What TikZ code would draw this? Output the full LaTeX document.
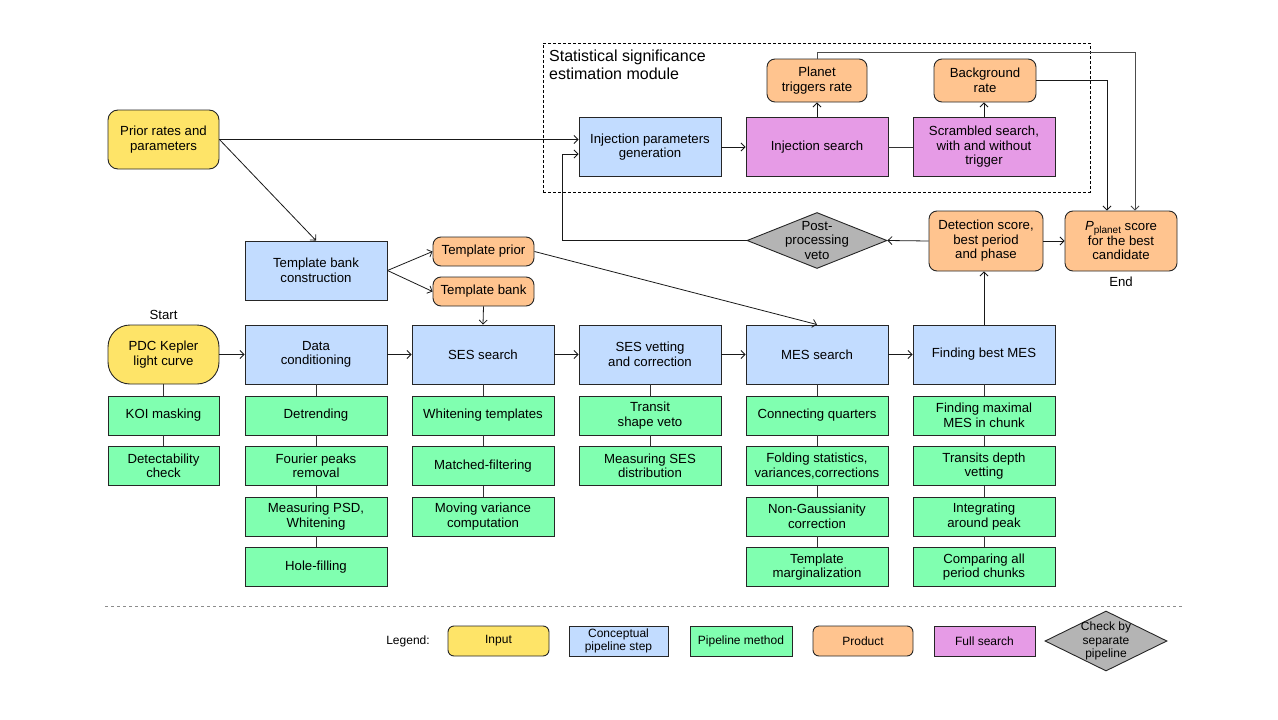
\documentclass[tikz,border=0pt]{standalone}
\usepackage{fontspec}
\setmainfont{Liberation Sans}
\usetikzlibrary{shapes.geometric,arrows.meta,calc}
\definecolor{cinput}{RGB}{254,228,104}
\definecolor{cstep}{RGB}{194,220,255}
\definecolor{cmeth}{RGB}{128,255,176}
\definecolor{cprod}{RGB}{255,196,143}
\definecolor{cfull}{RGB}{230,155,230}
\definecolor{cveto}{RGB}{180,180,180}
\begin{document}
\begin{tikzpicture}[x=1pt,y=-1pt,
  base/.style={font=\fontsize{13.2}{14.5}\selectfont, align=center, inner sep=0pt, line width=0.9pt, draw=black!85},
  inbox/.style={base, fill=cinput, minimum width=111pt, minimum height=59pt},
  stepbox/.style={base, fill=cstep, minimum width=142pt, minimum height=59pt},
  methbox/.style={base, fill=cmeth, minimum width=142pt, minimum height=39pt},
  prodbox/.style={base, fill=cprod, rounded corners=8pt},
  fullbox/.style={base, fill=cfull, minimum width=142pt, minimum height=59pt},
  legfont/.style={font=\fontsize{12}{13.5}\selectfont},
  lbl/.style={font=\fontsize{13.2}{14.5}\selectfont, align=center, inner sep=0pt},
  arr/.style={line width=0.8pt, draw=black!90, -{Straight Barb[length=4pt,width=8pt]}},
  conn/.style={line width=0.8pt, draw=black!80}
]
\useasboundingbox (0,0) rectangle (1278,720);

% statistical module
\node[draw=black, line width=0.8pt, dash pattern=on 3pt off 2pt, minimum width=547pt, minimum height=149pt, inner sep=0pt] (module) at (816.5,117.5) {};
\node[anchor=north west, align=left, inner sep=0pt, font=\fontsize{16}{18}\selectfont] (modtitle) at (549,50) {Statistical significance\\estimation module};

\node[stepbox] (ipg) at (650,147) {Injection parameters\\generation};
\node[fullbox] (isearch) at (817,147) {Injection search};
\node[fullbox] (scram) at (984,147) {Scrambled search,\\with and without\\trigger};
\node[prodbox, minimum width=100pt, minimum height=43pt] (ptr) at (817,80.5) {Planet\\triggers rate};
\node[prodbox, minimum width=102pt, minimum height=43pt] (bgr) at (985,80.5) {Background\\rate};

% prior and template bank
\node[inbox, rounded corners=10pt] (prior) at (163.5,139.5) {Prior rates and\\parameters};
\node[stepbox] (tbc) at (316,270.5) {Template bank\\construction};
\node[prodbox, minimum width=101pt, minimum height=29pt] (tprior) at (483.5,251.5) {Template prior};
\node[prodbox, minimum width=101pt, minimum height=29pt] (tbank) at (483.5,291.5) {Template bank};

% veto, detection, pplanet
\node[base, shape=diamond, fill=cveto, minimum width=140pt, minimum height=56pt] (veto) at (817,240.5) {};
\node[lbl] (vetotxt) at (veto.center) {Post-\\processing\\veto};
\node[prodbox, minimum width=114pt, minimum height=60pt] (detect) at (986,241) {Detection score,\\best period\\and phase};
\node[prodbox, minimum width=112pt, minimum height=60pt] (pplanet) at (1121,241) {{\itshape P}\raisebox{-0.35ex}{\fontsize{10}{10}\selectfont planet} score\\for the best\\candidate};
\node[lbl] (endtxt) at (1121,282) {End};

% main row
\node[lbl] (starttxt) at (163.5,315) {Start};
\node[inbox, rounded corners=22pt] (pdc) at (163.5,354.5) {PDC Kepler\\light curve};
\node[stepbox] (dc) at (316,354.5) {Data\\conditioning};
\node[stepbox] (ses) at (483,354.5) {SES search};
\node[stepbox] (sesv) at (650,354.5) {SES vetting\\and correction};
\node[stepbox] (mes) at (817,354.5) {MES search};
\node[stepbox] (fbm) at (984,354.5) {Finding best MES};

% methods
\node[methbox, minimum width=111pt] (koi) at (163.5,415.5) {KOI masking};
\node[methbox, minimum width=111pt] (detc) at (163.5,466) {Detectability\\check};

\node[methbox] (detr) at (316,415.5) {Detrending};
\node[methbox] (four) at (316,466) {Fourier peaks\\removal};
\node[methbox] (psd) at (316,516.5) {Measuring PSD,\\Whitening};
\node[methbox] (hole) at (316,567) {Hole-filling};

\node[methbox] (whit) at (483,415.5) {Whitening templates};
\node[methbox] (match) at (483,466) {Matched-filtering};
\node[methbox] (movv) at (483,516.5) {Moving variance\\computation};

\node[methbox] (trans) at (650,415.5) {Transit\\shape veto};
\node[methbox] (msd) at (650,466) {Measuring SES\\distribution};

\node[methbox] (conq) at (817,415.5) {Connecting quarters};
\node[methbox] (fold) at (817,466) {Folding statistics,\\variances,corrections};
\node[methbox] (nong) at (817,516.5) {Non-Gaussianity\\correction};
\node[methbox] (tmarg) at (817,567) {Template\\marginalization};

\node[methbox] (fmax) at (984,415.5) {Finding maximal\\MES in chunk};
\node[methbox] (tdep) at (984,466) {Transits depth\\vetting};
\node[methbox] (integ) at (984,516.5) {Integrating\\around peak};
\node[methbox] (comp) at (984,567) {Comparing all\\period chunks};

% vertical method links
\foreach \a/\b in {pdc/koi,koi/detc,dc/detr,detr/four,four/psd,psd/hole,ses/whit,whit/match,match/movv,sesv/trans,trans/msd,mes/conq,conq/fold,fold/nong,nong/tmarg,fbm/fmax,fmax/tdep,tdep/integ,integ/comp}
  \draw[conn] (\a.south) -- (\b.north);

% main chain
\draw[arr] (pdc.east) -- (dc.west);
\draw[arr] (dc.east) -- (ses.west);
\draw[arr] (ses.east) -- (sesv.west);
\draw[arr] (sesv.east) -- (mes.west);
\draw[arr] (mes.east) -- (fbm.west);
\draw[arr] (fbm.north) -- (fbm.north |- detect.south);
\draw[arr] (detect.west) -- (veto.east);
\draw[arr] (detect.east) -- (pplanet.west);

% template links
\draw[arr] (prior.east) -- (tbc.north);
\draw[arr] (prior.east) -- (prior.east -| ipg.west);
\draw[arr] (tbc.east) -- (tprior.west);
\draw[arr] (tbc.east) -- (tbank.west);
\draw[arr] (tprior.east) -- (mes.north);
\draw[arr] (tbank.south) -- (ses.north);

% loop back
\coordinate (loopx) at (562,0);
\coordinate (ipin) at ($(ipg.west)+(0,7)$);
\draw[arr] (veto.west) -- (veto.west -| loopx) |- (ipin);

% module internal
\draw[arr] (ipg.east) -- (isearch.west);
\draw[arr] (isearch.north) -- (ptr.south);
\draw[conn] (isearch.east) -- (scram.west);
\draw[arr] (scram.north) -- (scram.north |- bgr.south);
\draw[arr] (bgr.east) -| ($(pplanet.north)+(-14,0)$);
\coordinate (topy) at (0,52);
\draw[arr, draw=black!70] (ptr.north) -- (ptr.north |- topy) -| ($(pplanet.north)+(14,0)$);

% separator
\coordinate (sepL) at (105,606);
\coordinate (sepR) at (1182,606);
\draw[line width=0.9pt, draw=black!45, dash pattern=on 3pt off 3pt] (sepL) -- (sepR);

% legend
\node[legfont, inner sep=0pt] (legtxt) at (408,641) {Legend:};
\node[base, legfont, fill=cinput, rounded corners=6pt, minimum width=101pt, minimum height=30pt] (lin) at (498.5,641) {Input};
\node[base, legfont, fill=cstep, minimum width=99pt, minimum height=30pt] (lstep) at (618.5,641) {Conceptual\\pipeline step};
\node[base, legfont, fill=cmeth, minimum width=102pt, minimum height=30pt] (lmeth) at (741,641) {Pipeline method};
\node[base, legfont, fill=cprod, rounded corners=6pt, minimum width=100pt, minimum height=30pt] (lprod) at (863,641) {Product};
\node[base, legfont, fill=cfull, minimum width=101pt, minimum height=30pt] (lfull) at (984.5,641) {Full search};
\node[base, shape=diamond, fill=cveto, minimum width=122pt, minimum height=60pt] (ldiam) at (1106,641) {};
\node[lbl, legfont] (ldiamtxt) at (ldiam.center) {Check by\\separate\\pipeline};
\end{tikzpicture}
\end{document}
